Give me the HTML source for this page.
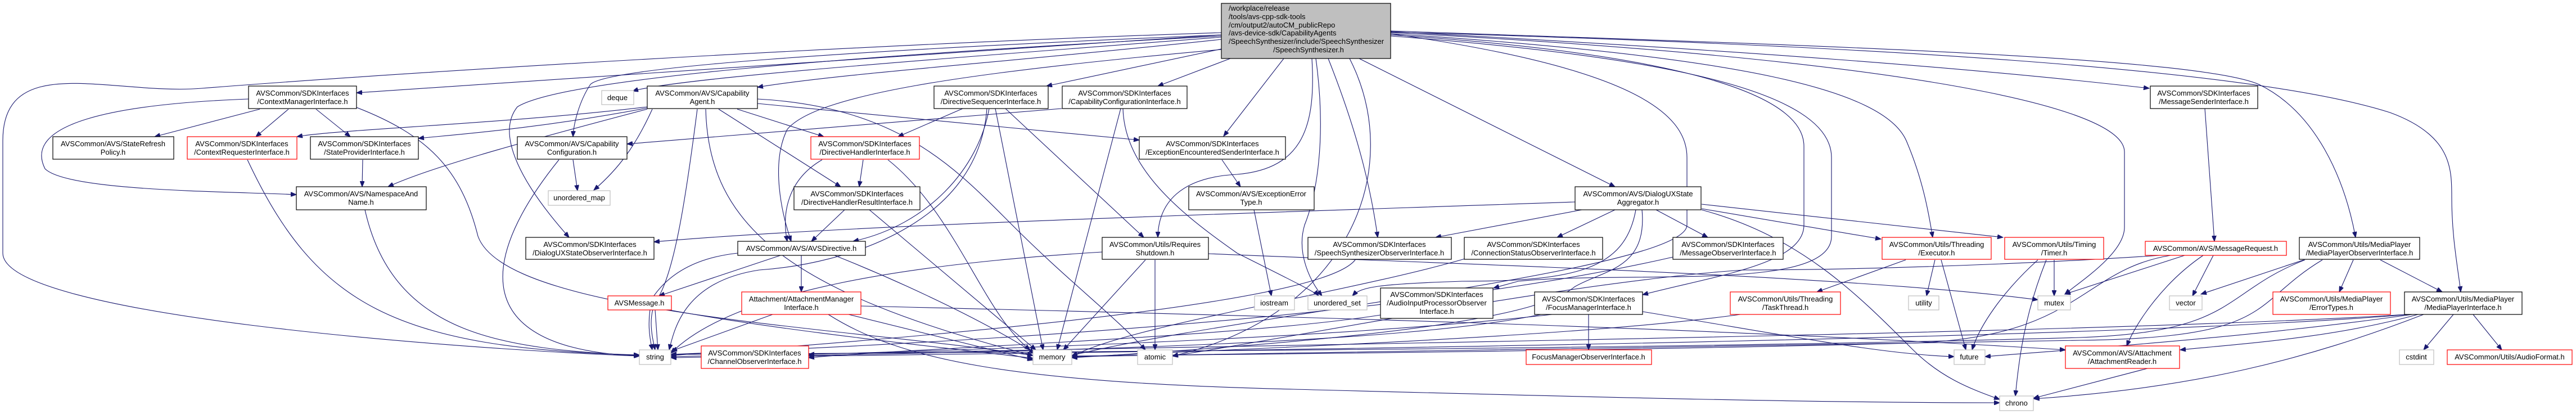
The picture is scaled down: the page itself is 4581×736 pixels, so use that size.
<!DOCTYPE html>
<html><head><meta charset="utf-8"><style>
html,body{margin:0;padding:0;background:#fff;}
svg{display:block;}
text{font-family:"Liberation Sans",sans-serif;font-size:13px;fill:#000;}
.e{fill:none;stroke:#191970;stroke-width:1.1;marker-end:url(#a);}
.n{fill:#fff;stroke:#000;stroke-width:1.2;}
.r{fill:#fff;stroke:#ff0000;stroke-width:1.2;}
.g{fill:#fff;stroke:#bfbfbf;stroke-width:1.2;}
</style></head><body>
<svg width="4581" height="736" viewBox="0 0 4581 736" xmlns="http://www.w3.org/2000/svg">
<defs><marker id="a" markerWidth="11" markerHeight="8" refX="10" refY="4" orient="auto" markerUnits="userSpaceOnUse"><path d="M0,0 L10,4 L0,8 z" fill="#191970" stroke="#191970"/></marker></defs>

<!-- edges from main -->
<path class="e" d="M2172,62 C1600,100 1000,140 634,165"/>
<path class="e" d="M2172,58 C1500,80 700,130 359,157 C200,170 5,90 5,250 L5,450 C5,560 800,620 1137,633"/>
<path class="e" d="M2172,66 C1600,110 1200,140 1125,162"/>
<path class="e" d="M2172,70 C1800,110 1500,130 1347,155"/>
<path class="e" d="M2172,62 C1500,90 1080,120 1050,150 C1030,180 1020,220 1019,243"/>
<path class="e" d="M2172,64 C1500,100 1000,140 920,190 C880,240 930,330 1012,422"/>
<path class="e" d="M2172,88 C1700,130 1450,170 1400,230 C1370,290 1390,380 1407,429"/>
<path class="e" d="M2172,87 L1861,153"/>
<path class="e" d="M2188,104 L2059,153"/>
<path class="e" d="M2283,104 L2176,242"/>
<path class="e" d="M2333,104 C2340,220 2320,300 2200,310 C2100,315 2060,360 2059,422"/>
<path class="e" d="M2340,104 C2360,250 2340,350 2320,400 C2305,450 2330,500 2351,526"/>
<path class="e" d="M2362,104 C2420,250 2440,350 2450,422"/>
<path class="e" d="M2417,104 L2872,332"/>
<path class="e" d="M2473,62 C2900,90 3208,150 3208,260 L3208,400 C3208,470 3050,490 2921,524"/>
<path class="e" d="M2473,64 C2950,100 3257,160 3257,280 L3257,420 C3257,520 2900,480 2700,500 L2656,512"/>
<path class="e" d="M2473,60 C3100,100 3350,160 3390,250 C3420,320 3430,380 3437,422"/>
<path class="e" d="M2473,58 C3300,100 3778,180 3778,270 L3778,404 C3778,450 3700,500 3672,523"/>
<path class="e" d="M2473,56 C3100,90 3500,120 3822,157"/>
<path class="e" d="M2473,55 C3200,80 3900,100 4017,150 C4120,200 4170,320 4189,422"/>
<path class="e" d="M2473,57 C3300,80 4000,120 4250,200 C4360,240 4360,300 4360,350 C4360,420 4370,470 4376,519"/>
<path class="e" d="M2473,60 C2900,120 3000,200 3000,280 L3000,400 C3000,480 2200,560 1906,632"/>
<path class="e" d="M2400,104 C2500,300 2400,560 2085,633"/>

<!-- CMI -->
<path class="e" d="M462,194 L275,243"/>
<path class="e" d="M513,194 L455,243"/>
<path class="e" d="M562,194 L623,243"/>
<path class="e" d="M442,176 C200,185 40,220 80,300 C120,340 400,340 527,346"/>
<path class="e" d="M634,191 C760,240 820,300 850,420 C900,560 1500,580 1837,632"/>
<path class="e" d="M440,284 C560,540 700,620 1137,631"/>
<path class="e" d="M645,284 L644,332"/>
<path class="e" d="M649,373 C700,600 900,620 1137,632"/>
<path class="e" d="M1019,284 L1027,339"/>
<path class="e" d="M994,284 C860,450 820,620 1137,633"/>
<!-- CA -->
<path class="e" d="M1160,194 C1130,260 1100,300 1056,338"/>
<path class="e" d="M1888,193 L1115,256"/>
<path class="e" d="M1151,190 C900,220 600,230 528,243"/>
<path class="e" d="M1151,192 C950,230 800,240 744,246"/>
<path class="e" d="M1151,194 C900,260 760,300 690,332"/>
<path class="e" d="M1311,194 L1465,243"/>
<path class="e" d="M1278,194 L1495,332"/>
<path class="e" d="M1347,184 L2026,249"/>
<path class="e" d="M1347,176 C1600,190 1700,300 1800,400 C1900,500 1980,560 2037,622"/>
<path class="e" d="M1240,194 C1220,350 1200,480 1170,530 C1150,560 1160,600 1165,622"/>
<path class="e" d="M1255,194 C1260,400 1400,520 1837,632"/>
<!-- DSI -->
<path class="e" d="M1712,193 L1597,243"/>
<path class="e" d="M1770,193 L1855,622"/>
<path class="e" d="M1788,193 L2034,422"/>
<path class="e" d="M1759,193 C1740,300 1650,400 1517,429"/>
<path class="e" d="M1755,193 C1740,400 1500,470 1350,480 C1220,500 1200,580 1190,622"/>
<!-- CCI -->
<path class="e" d="M1993,193 L1880,622"/>
<path class="e" d="M1997,193 C2000,300 2100,380 2200,450 C2300,500 2340,520 2345,526"/>
<!-- DHI/DHRI -->
<path class="e" d="M1535,284 L1528,332"/>
<path class="e" d="M1462,284 C1400,320 1390,380 1400,429"/>
<path class="e" d="M1579,284 C1700,380 1750,560 1832,622"/>
<path class="e" d="M1502,373 L1443,429"/>
<path class="e" d="M1546,373 L1842,622"/>
<!-- EES/EET -->
<path class="e" d="M2173,284 L2206,332"/>
<path class="e" d="M2230,373 L2261,526"/>
<!-- AVSD -->
<path class="e" d="M1425,454 L1425,519"/>
<path class="e" d="M1388,454 L1172,526"/>
<path class="e" d="M1312,450 C1220,460 1180,500 1160,530 C1150,570 1155,600 1160,622"/>
<path class="e" d="M1484,454 C1600,500 1750,570 1840,628"/>
<path class="e" d="M1190,551 C1400,590 1700,620 1837,637"/>
<path class="e" d="M1165,551 L1170,622"/>
<!-- AMI -->
<path class="e" d="M1374,559 L1194,624"/>
<path class="e" d="M1509,559 L1837,640"/>
<path class="e" d="M1531,544 C2200,560 3000,580 3673,622"/>
<path class="e" d="M1473,559 C1600,640 1800,680 2300,692 C2800,705 3200,716 3556,716"/>
<!-- RS -->
<path class="e" d="M2037,462 L1891,622"/>
<path class="e" d="M2054,462 L2054,622"/>
<path class="e" d="M1960,448 C1600,470 1300,520 1193,628"/>
<path class="e" d="M2149,451 C2600,470 3300,490 3624,533"/>
<!-- DUXA -->
<path class="e" d="M2801,359 C2200,380 1500,400 1163,430"/>
<path class="e" d="M2813,373 L2553,422"/>
<path class="e" d="M2872,373 L2769,422"/>
<path class="e" d="M2945,373 L3037,422"/>
<path class="e" d="M3026,371 L3345,425"/>
<path class="e" d="M3026,363 L3562,422"/>
<path class="e" d="M3026,373 C3200,420 3300,520 3400,620 C3450,670 3500,690 3556,710"/>
<path class="e" d="M2909,373 C2890,480 2800,500 2600,500 C2450,505 2420,510 2405,526"/>
<path class="e" d="M2920,373 C2930,480 2850,480 2800,510 C2740,560 2500,600 1906,636"/>
<!-- SSO/CSO/MOI -->
<path class="e" d="M2410,462 C2380,500 2200,560 1193,632"/>
<path class="e" d="M2605,460 C2400,520 2000,580 1906,634"/>
<path class="e" d="M2975,457 C2700,520 2200,590 1193,630"/>
<path class="e" d="M2455,560 C2200,600 1600,620 1438,636"/>
<!-- Exec/TT -->
<path class="e" d="M3389,462 L3231,519"/>
<path class="e" d="M3441,462 L3426,526"/>
<path class="e" d="M3452,462 L3496,622"/>
<path class="e" d="M3095,559 C2800,600 2200,620 1906,635"/>
<!-- FMI -->
<path class="e" d="M2825,559 L2825,622"/>
<path class="e" d="M2921,554 C3200,600 3350,630 3475,634"/>
<path class="e" d="M2760,559 C2400,600 1800,620 1438,630"/>
<path class="e" d="M2740,559 C2500,610 1900,625 1193,636"/>
<!-- Timer -->
<path class="e" d="M3653,462 L3653,526"/>
<path class="e" d="M3624,462 C3560,520 3520,580 3507,622"/>
<path class="e" d="M3639,462 C3600,560 3590,640 3584,704"/>
<!-- MSI / MR -->
<path class="e" d="M3921,193 L3938,429"/>
<path class="e" d="M3885,454 L3672,523"/>
<path class="e" d="M3936,454 L3899,526"/>
<path class="e" d="M3918,454 C3850,500 3800,570 3782,615"/>
<path class="e" d="M3841,454 C3600,470 3300,480 3100,480 C2800,500 2300,600 2085,633"/>
<path class="e" d="M3860,454 C3700,480 3700,600 3400,610 C2800,625 2200,630 1906,633"/>
<!-- MPO -->
<path class="e" d="M4097,462 L3914,523"/>
<path class="e" d="M4185,462 L4160,519"/>
<path class="e" d="M4233,462 L4343,519"/>
<path class="e" d="M4099,462 C3950,520 3980,590 3700,600 C3000,620 2000,625 1193,630"/>
<path class="e" d="M4130,462 C4000,540 4050,600 3700,605 C3000,620 2300,630 1906,634"/>
<!-- MPI -->
<path class="e" d="M4363,559 L4310,622"/>
<path class="e" d="M4398,559 L4449,622"/>
<path class="e" d="M4310,559 C4100,640 3900,690 3617,709"/>
<path class="e" d="M4300,559 C4150,600 4000,610 3877,622"/>
<path class="e" d="M4290,559 C4000,600 3700,620 3530,634"/>
<path class="e" d="M4285,559 C3800,600 2500,620 1438,633"/>
<path class="e" d="M4280,559 C3800,590 2500,610 1193,634"/>
<path class="e" d="M3876,640 L3616,708"/>

<!-- nodes -->
<rect x="2172" y="6" width="301" height="98" fill="#bfbfbf" stroke="#000" stroke-width="1.2"/>
<text x="2185" y="19">/workplace/release</text>
<text x="2185" y="34">/tools/avs-cpp-sdk-tools</text>
<text x="2185" y="49">/cm/output2/autoCM_publicRepo</text>
<text x="2185" y="63">/avs-device-sdk/CapabilityAgents</text>
<text x="2185" y="78">/SpeechSynthesizer/include/SpeechSynthesizer</text>
<text x="2327" y="93" text-anchor="middle">/SpeechSynthesizer.h</text>

<g text-anchor="middle">
<rect class="n" x="442" y="153" width="192" height="40"/><text x="538" y="170">AVSCommon/SDKInterfaces</text><text x="538" y="185">/ContextManagerInterface.h</text>
<rect class="n" x="94" y="243" width="215" height="40"/><text x="201" y="260">AVSCommon/AVS/StateRefresh</text><text x="201" y="275">Policy.h</text>
<rect class="r" x="333" y="243" width="195" height="40"/><text x="430" y="260">AVSCommon/SDKInterfaces</text><text x="430" y="275">/ContextRequesterInterface.h</text>
<rect class="n" x="552" y="243" width="192" height="40"/><text x="648" y="260">AVSCommon/SDKInterfaces</text><text x="648" y="275">/StateProviderInterface.h</text>
<rect class="n" x="527" y="332" width="231" height="41"/><text x="642" y="349">AVSCommon/AVS/NamespaceAnd</text><text x="642" y="364">Name.h</text>
<rect class="g" x="1070" y="161" width="57" height="25"/><text x="1098" y="178">deque</text>
<rect class="n" x="920" y="243" width="195" height="40"/><text x="1017" y="260">AVSCommon/AVS/Capability</text><text x="1017" y="275">Configuration.h</text>
<rect class="g" x="975" y="339" width="110" height="26"/><text x="1030" y="356">unordered_map</text>
<rect class="n" x="935" y="422" width="228" height="39"/><text x="1049" y="439">AVSCommon/SDKInterfaces</text><text x="1049" y="454">/DialogUXStateObserverInterface.h</text>
<rect class="r" x="1081" y="526" width="113" height="25"/><text x="1137" y="543">AVSMessage.h</text>
<rect class="g" x="1137" y="622" width="56" height="26"/><text x="1165" y="639">string</text>
<rect class="n" x="1151" y="153" width="196" height="40"/><text x="1249" y="170">AVSCommon/AVS/Capability</text><text x="1249" y="185">Agent.h</text>
<rect class="n" x="1661" y="153" width="203" height="40"/><text x="1762" y="170">AVSCommon/SDKInterfaces</text><text x="1762" y="185">/DirectiveSequencerInterface.h</text>
<rect class="n" x="1889" y="153" width="222" height="40"/><text x="2000" y="170">AVSCommon/SDKInterfaces</text><text x="2000" y="185">/CapabilityConfigurationInterface.h</text>
<rect class="r" x="1442" y="243" width="193" height="40"/><text x="1538" y="260">AVSCommon/SDKInterfaces</text><text x="1538" y="275">/DirectiveHandlerInterface.h</text>
<rect class="n" x="2026" y="243" width="260" height="40"/><text x="2156" y="260">AVSCommon/SDKInterfaces</text><text x="2156" y="275">/ExceptionEncounteredSenderInterface.h</text>
<rect class="n" x="1412" y="332" width="224" height="41"/><text x="1524" y="349">AVSCommon/SDKInterfaces</text><text x="1524" y="364">/DirectiveHandlerResultInterface.h</text>
<rect class="n" x="2114" y="332" width="223" height="41"/><text x="2225" y="349">AVSCommon/AVS/ExceptionError</text><text x="2225" y="364">Type.h</text>
<rect class="n" x="1312" y="429" width="227" height="25"/><text x="1425" y="446">AVSCommon/AVS/AVSDirective.h</text>
<rect class="n" x="1960" y="422" width="189" height="39"/><text x="2054" y="439">AVSCommon/Utils/Requires</text><text x="2054" y="454">Shutdown.h</text>
<rect class="r" x="1319" y="519" width="212" height="40"/><text x="1425" y="536">Attachment/AttachmentManager</text><text x="1425" y="551">Interface.h</text>
<rect class="r" x="1247" y="615" width="191" height="40"/><text x="1342" y="632">AVSCommon/SDKInterfaces</text><text x="1342" y="647">/ChannelObserverInterface.h</text>
<rect class="g" x="1837" y="622" width="69" height="26"/><text x="1871" y="639">memory</text>
<rect class="g" x="2023" y="622" width="62" height="26"/><text x="2054" y="639">atomic</text>
<rect class="g" x="2231" y="526" width="71" height="25"/><text x="2266" y="543">iostream</text>
<rect class="n" x="2801" y="332" width="224" height="41"/><text x="2913" y="349">AVSCommon/AVS/DialogUXState</text><text x="2913" y="364">Aggregator.h</text>
<rect class="n" x="2326" y="422" width="255" height="39"/><text x="2453" y="439">AVSCommon/SDKInterfaces</text><text x="2453" y="454">/SpeechSynthesizerObserverInterface.h</text>
<rect class="n" x="2604" y="422" width="246" height="39"/><text x="2727" y="439">AVSCommon/SDKInterfaces</text><text x="2727" y="454">/ConnectionStatusObserverInterface.h</text>
<rect class="n" x="2975" y="422" width="196" height="39"/><text x="3073" y="439">AVSCommon/SDKInterfaces</text><text x="3073" y="454">/MessageObserverInterface.h</text>
<rect class="r" x="3347" y="422" width="194" height="39"/><text x="3444" y="439">AVSCommon/Utils/Threading</text><text x="3444" y="454">/Executor.h</text>
<rect class="g" x="2326" y="526" width="105" height="25"/><text x="2378" y="543">unordered_set</text>
<rect class="n" x="2455" y="512" width="200" height="54"/><text x="2555" y="528">AVSCommon/SDKInterfaces</text><text x="2555" y="543">/AudioInputProcessorObserver</text><text x="2555" y="558">Interface.h</text>
<rect class="n" x="2729" y="519" width="192" height="40"/><text x="2825" y="536">AVSCommon/SDKInterfaces</text><text x="2825" y="551">/FocusManagerInterface.h</text>
<rect class="r" x="3077" y="519" width="196" height="40"/><text x="3175" y="536">AVSCommon/Utils/Threading</text><text x="3175" y="551">/TaskThread.h</text>
<rect class="g" x="3394" y="526" width="54" height="25"/><text x="3421" y="543">utility</text>
<rect class="r" x="2714" y="622" width="223" height="26"/><text x="2825" y="639">FocusManagerObserverInterface.h</text>
<rect class="n" x="3824" y="153" width="191" height="40"/><text x="3919" y="170">AVSCommon/SDKInterfaces</text><text x="3919" y="185">/MessageSenderInterface.h</text>
<rect class="r" x="3565" y="422" width="176" height="39"/><text x="3653" y="439">AVSCommon/Utils/Timing</text><text x="3653" y="454">/Timer.h</text>
<rect class="r" x="3815" y="429" width="251" height="25"/><text x="3940" y="446">AVSCommon/AVS/MessageRequest.h</text>
<rect class="n" x="4089" y="422" width="214" height="39"/><text x="4196" y="439">AVSCommon/Utils/MediaPlayer</text><text x="4196" y="454">/MediaPlayerObserverInterface.h</text>
<rect class="g" x="3624" y="526" width="58" height="25"/><text x="3653" y="543">mutex</text>
<rect class="g" x="3858" y="526" width="58" height="25"/><text x="3887" y="543">vector</text>
<rect class="r" x="4042" y="519" width="209" height="40"/><text x="4146" y="536">AVSCommon/Utils/MediaPlayer</text><text x="4146" y="551">/ErrorTypes.h</text>
<rect class="n" x="4276" y="519" width="209" height="40"/><text x="4380" y="536">AVSCommon/Utils/MediaPlayer</text><text x="4380" y="551">/MediaPlayerInterface.h</text>
<rect class="g" x="3475" y="622" width="55" height="26"/><text x="3502" y="639">future</text>
<rect class="r" x="3673" y="615" width="203" height="40"/><text x="3774" y="632">AVSCommon/AVS/Attachment</text><text x="3774" y="647">/AttachmentReader.h</text>
<rect class="g" x="4267" y="622" width="61" height="26"/><text x="4297" y="639">cstdint</text>
<rect class="r" x="4352" y="622" width="222" height="26"/><text x="4463" y="639">AVSCommon/Utils/AudioFormat.h</text>
<rect class="g" x="3556" y="704" width="60" height="26"/><text x="3586" y="721">chrono</text>
</g>
</svg>
</body></html>
